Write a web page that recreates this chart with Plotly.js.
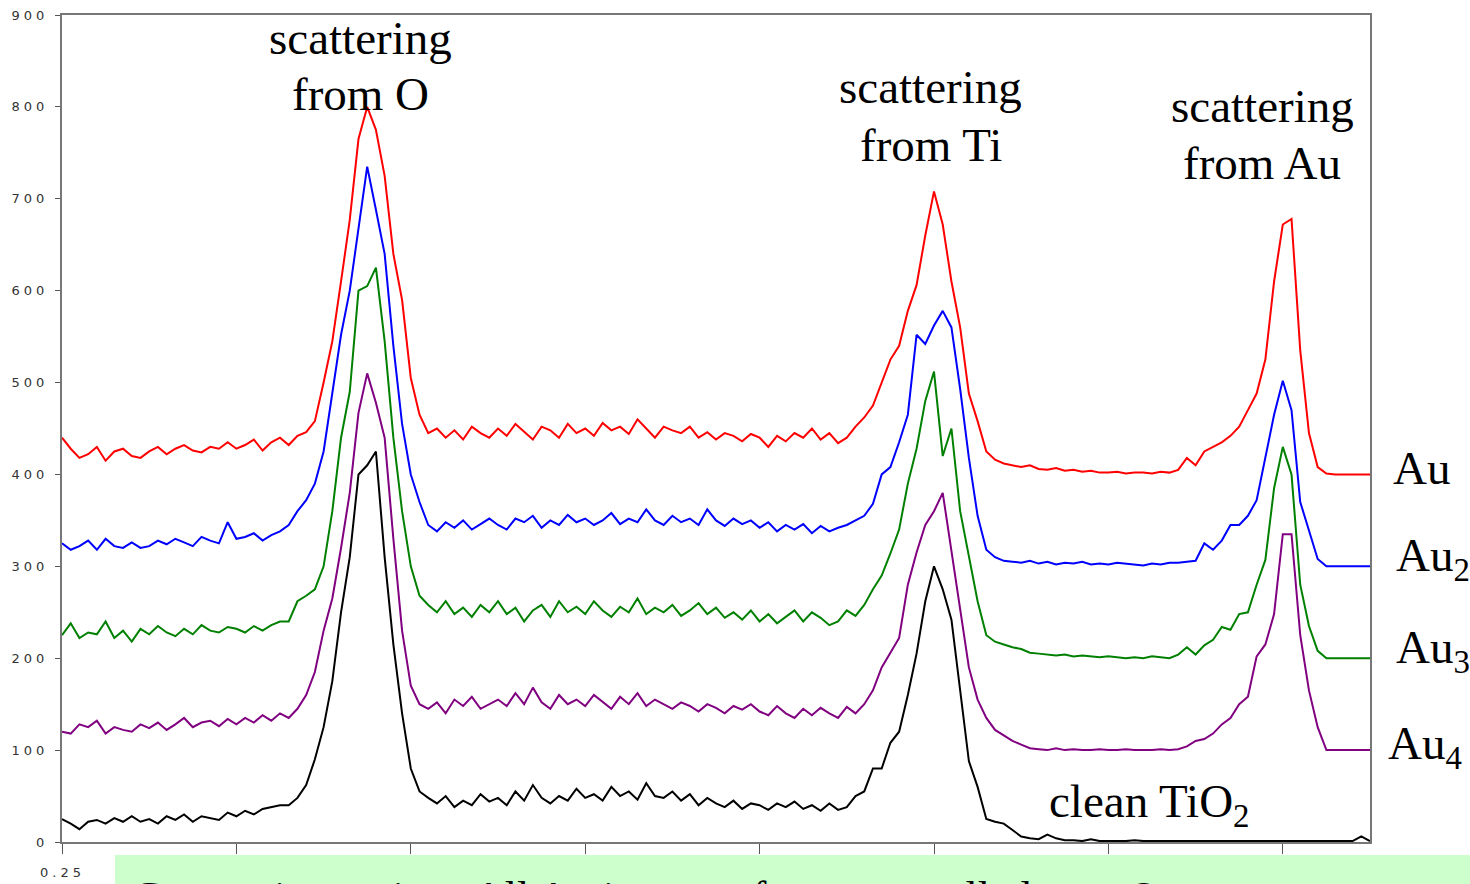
<!DOCTYPE html>
<html>
<head>
<meta charset="utf-8">
<script src="https://cdn.plot.ly/plotly-3.0.1.min.js"></script>
<style>
  html, body { margin: 0; padding: 0; background: #ffffff; overflow: hidden; }
  #chart { width: 1470px; height: 884px; }
  .ytick text, .annotation-text.ticklike { letter-spacing: 4px; }
</style>
</head>
<body>
<div id="chart"></div>
<script>
// Sampling grid of the spectra (E/E0), 0.25 .. 1.00
const xStart = 0.25;
const xStep = 0.005;
const nPoints = 151;

// Series values (counts), one value per grid point
const au = [
  440, 428, 418, 422, 430, 415, 425, 428, 420, 418,
  425, 430, 422, 428, 432, 426, 424, 430, 428, 435,
  428, 432, 438, 426, 435, 440, 432, 442, 446, 458,
  500, 545, 610, 677, 765, 800, 775, 725, 640, 590,
  505, 465, 445, 450, 440, 448, 438, 452, 445, 440,
  450, 442, 455, 446, 438, 452, 448, 440, 455, 445,
  450, 442, 456, 448, 452, 444, 460, 450, 440, 452,
  448, 445, 452, 440, 446, 438, 445, 442, 436, 444,
  440, 430, 442, 436, 445, 440, 450, 438, 445, 434,
  440, 452, 462, 475, 500, 525, 540, 578, 606, 660,
  708, 672, 610, 560, 488, 458, 425, 416, 412, 410,
  408, 410, 406, 405, 407, 404, 405, 403, 404, 402,
  402, 403, 401, 402, 402, 401, 403, 402, 405, 418,
  410, 425, 430, 435, 442, 452, 470, 488, 525, 610,
  672, 678, 535, 445, 408, 401, 400, 400, 400, 400, 400
];
const au2 = [
  325, 318, 322, 328, 318, 330, 322, 320, 326, 320,
  322, 328, 324, 330, 326, 322, 332, 328, 325, 348,
  330, 332, 336, 328, 334, 338, 345, 360, 372, 390,
  425, 490, 552, 600, 665, 735, 688, 640, 540, 455,
  400, 370, 345, 338, 348, 342, 350, 340, 346, 352,
  345, 340, 352, 348, 355, 342, 350, 345, 356, 348,
  352, 345, 350, 358, 346, 352, 348, 362, 350, 345,
  355, 348, 352, 345, 362, 350, 344, 352, 346, 350,
  342, 348, 338, 345, 340, 346, 336, 344, 338, 342,
  345, 350, 355, 368, 400, 408, 435, 465, 552, 542,
  562, 578, 560, 493, 418, 355, 318, 310, 306, 305,
  304, 306, 303, 305, 302, 304, 303, 305, 302, 303,
  302, 304, 303, 302, 301, 303, 302, 304, 304, 305,
  306, 325, 318, 328, 345, 345, 355, 372, 418, 465,
  502, 470, 370, 340, 308, 300, 300, 300, 300, 300, 300
];
const au3 = [
  225, 238, 222, 228, 226, 240, 222, 230, 218, 232,
  226, 235, 228, 224, 232, 226, 236, 230, 228, 234,
  232, 228, 235, 230, 236, 240, 240, 262, 268, 275,
  300, 360, 440, 490, 600, 605, 625, 545, 440, 360,
  300, 268, 258, 250, 262, 248, 255, 245, 258, 250,
  262, 248, 255, 240, 252, 258, 245, 262, 250, 256,
  248, 262, 252, 245, 256, 250, 265, 248, 255, 250,
  258, 246, 252, 260, 248, 255, 244, 250, 242, 252,
  240, 248, 238, 245, 252, 240, 250, 244, 236, 240,
  252, 246, 258, 275, 290, 314, 340, 390, 428, 480,
  512, 420, 450, 360, 310, 262, 225, 218, 215, 212,
  210, 206, 205, 204, 203, 204, 202, 203, 202, 201,
  202, 201, 200, 201, 200, 202, 201, 200, 204, 212,
  204, 214, 220, 234, 231, 248, 250, 280, 307, 385,
  430, 400, 280, 235, 208, 200, 200, 200, 200, 200, 200
];
const au4 = [
  120, 118, 128, 125, 132, 118, 125, 122, 120, 128,
  124, 130, 122, 128, 135, 125, 130, 132, 126, 134,
  128, 135, 130, 138, 132, 140, 135, 145, 160, 185,
  230, 265, 320, 380, 467, 510, 478, 440, 330, 230,
  170, 150, 145, 152, 140, 155, 148, 158, 145, 150,
  155, 148, 162, 150, 168, 152, 145, 160, 150, 155,
  148, 160, 152, 145, 158, 150, 162, 148, 155, 150,
  145, 152, 148, 142, 150, 146, 140, 148, 144, 150,
  142, 138, 148, 140, 135, 145, 138, 146, 140, 135,
  147, 140, 150, 165, 190, 206, 222, 280, 315, 345,
  360, 380, 315, 255, 190, 155, 135, 122, 116, 110,
  106, 102, 101, 100, 102, 100, 101, 100, 100, 101,
  100, 100, 101, 100, 100, 100, 101, 100, 101, 104,
  110, 112, 118, 128, 135, 150, 158, 202, 215, 248,
  335, 335, 225, 165, 125, 100, 100, 100, 100, 100, 100
];
const cleanTiO2 = [
  25, 20, 14, 22, 24, 20, 26, 22, 28, 22,
  25, 20, 28, 24, 30, 22, 28, 26, 24, 32,
  28, 34, 30, 36, 38, 40, 40, 48, 62, 90,
  125, 175, 250, 310, 400, 410, 425, 310, 215, 140,
  80, 55, 48, 42, 50, 38, 45, 40, 52, 44,
  48, 40, 55, 45, 62, 48, 42, 50, 45, 58,
  48, 52, 45, 60, 50, 55, 46, 64, 50, 48,
  55, 45, 52, 40, 48, 42, 38, 45, 36, 42,
  40, 35, 42, 38, 44, 36, 40, 34, 42, 35,
  38, 50, 55, 80, 80, 108, 120, 160, 205, 262,
  300, 275, 242, 168, 88, 60, 25, 22, 20, 13,
  6, 4, 3, 8, 4, 2, 2, 1, 3, 1,
  1, 1, 1, 2, 1, 1, 1, 1, 1, 1,
  1, 1, 1, 1, 1, 1, 1, 1, 1, 1,
  1, 1, 1, 1, 1, 1, 1, 1, 1, 6, 1
];

const seriesNames = ["Au", "Au2", "Au3", "Au4", "clean TiO2"];
const seriesColors = ["#ff0000", "#0000ff", "#008000", "#800080", "#000000"];
const xTickVals = [0.25, 0.35, 0.45, 0.55, 0.65, 0.75, 0.85, 0.95];
// only the first x label is visible in the reference (the rest sit under the green box)
const xFirstLabel = "0.25";
const yTickVals = [0, 100, 200, 300, 400, 500, 600, 700, 800, 900];

const xGrid = [];
for (let i = 0; i < nPoints; i++) xGrid.push(+(xStart + i * xStep).toFixed(3));

const allSeries = [au, au2, au3, au4, cleanTiO2];
const traces = allSeries.map((vals, k) => ({
  type: "scatter",
  mode: "lines",
  x: xGrid,
  y: vals,
  name: seriesNames[k],
  line: { color: seriesColors[k], width: 2 },
  hoverinfo: "skip"
}));

// page pixel -> paper coordinates (plot area 62..1370 x 15..842)
const PX0 = 62, PW = 1308, PY0 = 842, PH = 827;
const px = v => (v - PX0) / PW;
const py = v => (PY0 - v) / PH;

const serif = { family: "Liberation Serif, Times New Roman, serif", size: 47, color: "#000000" };

const labels = [
  { text: "scattering", x: 360.5, y: 38, anchor: "center" },
  { text: "from O", x: 360.5, y: 94, anchor: "center" },
  { text: "scattering", x: 930.5, y: 87, anchor: "center" },
  { text: "from Ti", x: 930.5, y: 145, anchor: "center" },
  { text: "scattering", x: 1262, y: 106, anchor: "center" },
  { text: "from Au", x: 1262, y: 163, anchor: "center" },
  { text: "Au", x: 1391, y: 468, anchor: "left" },
  { text: "Au<sub>2</sub>", x: 1394, y: 558, anchor: "left" },
  { text: "Au<sub>3</sub>", x: 1394, y: 650, anchor: "left" },
  { text: "Au<sub>4</sub>", x: 1386, y: 746, anchor: "left" },
  { text: "clean TiO<sub>2</sub>", x: 1047, y: 804, anchor: "left" }
];

const annotations = labels.map(l => ({
  xref: "paper", yref: "paper",
  x: px(l.x), y: py(l.y),
  xanchor: l.anchor, yanchor: "middle",
  text: l.text, showarrow: false,
  font: serif
}));

// first x tick label
annotations.push({
  xref: "x", yref: "paper",
  x: xTickVals[0], y: py(872),
  xanchor: "center", yanchor: "middle",
  text: xFirstLabel, showarrow: false,
  font: { family: "DejaVu Sans, Arial, sans-serif", size: 13, color: "#333333" }
});

annotations.push({
  xref: "paper", yref: "paper",
  x: px(130), y: py(871),
  xanchor: "left", yanchor: "top",
  text: "Comparing series:  All Au is on surface, as small clusters?",
  showarrow: false,
  font: { family: "Liberation Serif, Times New Roman, serif", size: 44, color: "#000000" }
});

const layout = {
  width: 1470,
  height: 884,
  margin: { l: 62, r: 100, t: 15, b: 42 },
  paper_bgcolor: "#ffffff",
  plot_bgcolor: "#ffffff",
  showlegend: false,
  xaxis: {
    range: [0.25, 1.0],
    tickvals: xTickVals,
    showticklabels: false,
    ticks: "outside",
    ticklen: 10,
    tickcolor: "#555555",
    tickwidth: 1,
    showgrid: false,
    zeroline: false,
    showline: true,
    linecolor: "#777777",
    linewidth: 2,
    mirror: true,
    fixedrange: true
  },
  yaxis: {
    range: [0, 900],
    tickvals: yTickVals,
    ticks: "outside",
    ticklen: 5,
    tickcolor: "#555555",
    tickwidth: 1,
    showgrid: false,
    zeroline: false,
    showline: true,
    linecolor: "#777777",
    linewidth: 2,
    mirror: true,
    tickfont: { family: "DejaVu Sans, Arial, sans-serif", size: 13, color: "#333333" },
    ticklabelstandoff: 4,
    fixedrange: true
  },
  shapes: [{
    type: "rect", xref: "paper", yref: "paper",
    x0: px(115), x1: px(1480), y0: py(855), y1: py(920),
    fillcolor: "#ccffcc", line: { width: 0 }, layer: "above"
  }],
  annotations: annotations
};

Plotly.newPlot("chart", traces, layout, { displayModeBar: false, staticPlot: true }).then(() => {
  // give the lone x label the same wide spacing as the y labels
  document.querySelectorAll(".annotation-text").forEach(t => {
    if (t.textContent === xFirstLabel) t.style.letterSpacing = "4px";
  });
});
</script>
</body>
</html>
